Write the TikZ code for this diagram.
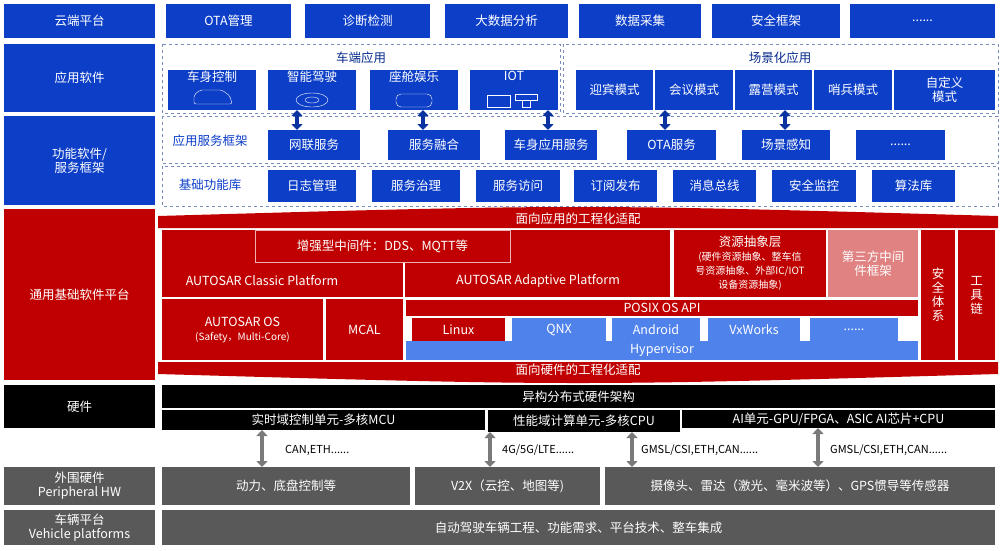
\documentclass[tikz,border=0pt]{standalone}
\usepackage{fontspec}
\setmainfont{Noto Sans CJK SC}
\usetikzlibrary{arrows.meta}
\definecolor{cblue}{RGB}{12,62,200}
\definecolor{cred}{RGB}{192,0,0}
\definecolor{lblue}{RGB}{80,130,235}
\definecolor{cpink}{RGB}{225,130,130}
\definecolor{cgray}{RGB}{89,89,89}
\definecolor{dgrid}{RGB}{120,140,190}
\newcommand\bx[7]{\node[#6, minimum width={(#4-#2)*1pt}, minimum height={(#5-#3)*1pt}] (#1) at ({(#2+#4)/2},{(#3+#5)/2}) {#7};}
\tikzset{
 base/.style={inner sep=0pt, outer sep=0pt, text=white, align=center, font=\fontsize{12.5}{14}\selectfont},
 bb/.style={base, fill=cblue},
 rb/.style={base, fill=cred},
 kb/.style={base, fill=black},
 gb/.style={base, fill=cgray},
 lb/.style={base, fill=lblue},
 pb/.style={base, fill=cpink},
 ctr/.style={draw=dgrid, dashed, thick},
 lab/.style={inner sep=0pt, font=\fontsize{12.5}{14}\selectfont, text=cblue!70!black},
 barr/.style={{Triangle[length=6pt,width=11pt]}-{Triangle[length=6pt,width=11pt]}, line width=3.5pt, draw=cblue!80!black},
 garr/.style={{Triangle[length=6pt,width=11pt]}-{Triangle[length=6pt,width=11pt]}, line width=3.5pt, draw=cgray!80}
}
\begin{document}
\begin{tikzpicture}[x=1pt,y=-1pt]
\useasboundingbox (0,0) rectangle (1000,550);
% row 1
\bx{c0}{4}{4}{155}{38}{bb}{云端平台}
\bx{c1}{166}{4}{291}{38}{bb}{OTA管理}
\bx{c2}{305}{4}{430}{38}{bb}{诊断检测}
\bx{c3}{445}{4}{568}{38}{bb}{大数据分析}
\bx{c4}{579}{4}{701}{38}{bb}{数据采集}
\bx{c5}{712}{4}{840}{38}{bb}{安全框架}
\bx{c6}{850}{4}{995}{38}{bb}{......}
% row 2
\bx{a0}{4}{44}{155}{112}{bb}{应用软件}
\draw[ctr] (162,44) rectangle (560,113);
\draw[ctr] (563,44) rectangle (998,113);
\node[lab] (t1) at (361,58) {车端应用};
\node[lab] (t2) at (780,58) {场景化应用};
\bx{a1}{168}{70}{256}{110}{bb}{车身控制\\[14pt]}
\bx{a2}{268}{70}{356}{110}{bb}{智能驾驶\\[14pt]}
\bx{a3}{370}{70}{458}{110}{bb}{座舱娱乐\\[14pt]}
\bx{a4}{470}{70}{558}{110}{bb}{IOT\\[14pt]}
\bx{s1}{576}{70}{653}{110}{bb}{迎宾模式}
\bx{s2}{655}{70}{733}{110}{bb}{会议模式}
\bx{s3}{735}{70}{812}{110}{bb}{露营模式}
\bx{s4}{814}{70}{892}{110}{bb}{哨兵模式}
\bx{s5}{894}{70}{995}{110}{bb}{自定义\\模式}
% simple icons
\draw[white,thin,rounded corners=2pt] (194,95) -- (200,90) -- (222,90) -- (230,96) -- (232,104) -- (194,104) -- cycle;
\draw[white,thin] (312,100) ellipse (16pt and 7pt) (312,100) ellipse (7pt and 3pt);
\draw[white,thin,rounded corners=5pt] (396,94) rectangle (432,107);
\draw[white,thin] (487,95) rectangle (510,107) (515,94) rectangle (537,100) (522,100) rectangle (530,107);
% row 3
\bx{f0}{4}{116}{155}{205}{bb}{功能软件/\\服务框架}
\draw[ctr] (162,116) rectangle (998,163);
\draw[ctr] (162,166) rectangle (998,206);
\node[lab,text=cblue] (t3) at (210,141) {应用服务框架};
\node[lab,text=cblue] (t4) at (210,185) {基础功能库};
\bx{v1}{268}{130}{360}{160}{bb}{网联服务}
\bx{v2}{388}{130}{480}{160}{bb}{服务融合}
\bx{v3}{505}{130}{597}{160}{bb}{车身应用服务}
\bx{v4}{627}{130}{716}{160}{bb}{OTA服务}
\bx{v5}{742}{130}{830}{160}{bb}{场景感知}
\bx{v6}{856}{130}{945}{160}{bb}{......}
\bx{b1}{268}{170}{356}{202}{bb}{日志管理}
\bx{b2}{372}{170}{460}{202}{bb}{服务治理}
\bx{b3}{476}{170}{560}{202}{bb}{服务访问}
\bx{b4}{574}{170}{657}{202}{bb}{订阅发布}
\bx{b5}{673}{170}{756}{202}{bb}{消息总线}
\bx{b6}{772}{170}{856}{202}{bb}{安全监控}
\bx{b7}{872}{170}{955}{202}{bb}{算法库}
\coordinate (x1) at (297,0); \coordinate (x2) at (423,0); \coordinate (x3) at (548,0);
\coordinate (x4) at (665,0); \coordinate (x5) at (785,0);
\draw[barr] (a2.south -| x1) -- (v1.north -| x1);
\draw[barr] (a3.south -| x2) -- (v2.north -| x2);
\draw[barr] (a4.south -| x3) -- (v3.north -| x3);
\draw[barr] (s2.south -| x4) -- (v4.north -| x4);
\draw[barr] (s3.south -| x5) -- (v5.north -| x5);
% red section
\bx{r0}{4}{209}{155}{380}{rb}{通用基础软件平台}
\fill[cred] (158,228) -- (158,216) .. controls (578,204) .. (998,216) -- (998,228) -- cycle;
\node[base] (up) at (578,219) {面向应用的工程化适配};
\fill[cred] (158,362) -- (998,362) -- (998,374) .. controls (578,386) .. (158,374) -- cycle;
\node[base] (dn) at (578,370) {面向硬件的工程化适配};
\bx{ac}{162}{230}{403}{297}{rb}{}
\bx{aa}{405}{230}{670}{297}{rb}{}
\node[base] (acl) at (262,281) {AUTOSAR Classic Platform};
\node[base] (aal) at (538,281) {AUTOSAR Adaptive Platform};
\bx{mw}{255}{230}{510}{262}{rb,draw=white!70!cred,thin}{增强型中间件：DDS、MQTT等}
\bx{rs}{674}{230}{826}{297}{rb}{资源抽象层\\{\fontsize{10}{12.5}\selectfont (硬件资源抽象、整车信}\\{\fontsize{10}{12.5}\selectfont 号资源抽象、外部IC/IOT}\\{\fontsize{10}{12.5}\selectfont 设备资源抽象)}}
\bx{tp}{828}{230}{918}{297}{pb}{第三方中间\\件框架}
\bx{aq}{921}{230}{955}{360}{rb}{安\\全\\体\\系}
\bx{gj}{958}{230}{995}{360}{rb}{工\\具\\链}
\bx{os}{162}{299}{323}{360}{rb}{AUTOSAR OS\\{\fontsize{10}{12.5}\selectfont (Safety，Multi-Core)}}
\bx{mc}{326}{299}{403}{360}{rb}{MCAL}
\bx{px}{406}{300}{918}{316}{rb}{POSIX OS API}
\bx{hv}{406}{341}{918}{360}{lb}{Hypervisor}
\bx{o1}{412}{318}{505}{341}{rb}{Linux}
\bx{o2}{512}{318}{606}{341}{lb}{QNX}
\bx{o3}{612}{318}{700}{341}{lb}{Android}
\bx{o4}{708}{318}{800}{341}{lb}{VxWorks}
\bx{o5}{810}{318}{898}{341}{lb}{......}
% hardware
\bx{h0}{4}{385}{155}{428}{kb}{硬件}
\bx{h1}{162}{385}{995}{408}{kb}{异构分布式硬件架构}
\bx{h2}{162}{410}{485}{430}{kb}{实时域控制单元-多核MCU}
\bx{h3}{488}{410}{680}{432}{kb}{性能域计算单元-多核CPU}
\bx{h4}{682}{410}{995}{428}{kb}{AI单元-GPU/FPGA、ASIC AI芯片+CPU}
\bx{p0}{4}{467}{155}{505}{gb}{外围硬件\\Peripheral HW}
\bx{p1}{162}{467}{410}{505}{gb}{动力、底盘控制等}
\bx{p2}{415}{467}{600}{505}{gb}{V2X（云控、地图等)}
\bx{p3}{605}{467}{995}{505}{gb}{摄像头、雷达（激光、毫米波等）、GPS惯导等传感器}
\bx{q0}{4}{510}{155}{545}{gb}{车辆平台\\Vehicle platforms}
\bx{q1}{162}{510}{995}{545}{gb}{自动驾驶车辆工程、功能需求、平台技术、整车集成}
\coordinate (y1) at (262,0); \coordinate (y2) at (490,0); \coordinate (y3) at (632,0); \coordinate (y4) at (818,0);
\draw[garr] (h2.south -| y1) -- (p1.north -| y1);
\draw[garr] (h3.south -| y2) -- (p2.north -| y2);
\draw[garr] (h3.south -| y3) -- (p3.north -| y3);
\draw[garr] (h4.south -| y4) -- (p3.north -| y4);
\tikzset{nl/.style={inner sep=0pt, anchor=west, font=\fontsize{11}{12}\selectfont}}
\node[nl] (l1) at (285,450) {CAN,ETH......};
\node[nl] (l2) at (502,450) {4G/5G/LTE......};
\node[nl] (l3) at (641,450) {GMSL/CSI,ETH,CAN......};
\node[nl] (l4) at (830,450) {GMSL/CSI,ETH,CAN......};
\end{tikzpicture}
\end{document}
